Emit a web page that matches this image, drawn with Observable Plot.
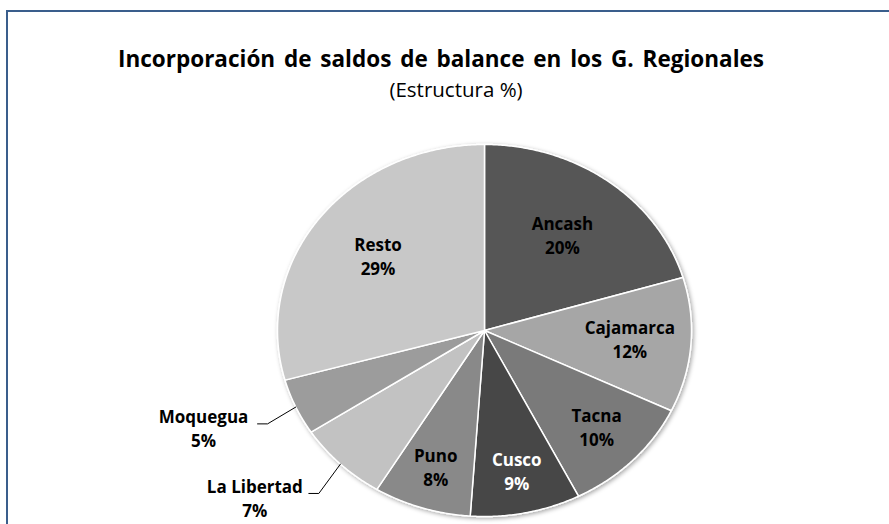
<!DOCTYPE html>
<html>
<head>
<meta charset="utf-8">
<script src="https://cdn.jsdelivr.net/npm/d3@7"></script>
<script src="https://cdn.jsdelivr.net/npm/@observablehq/plot@0.6"></script>
<style>
  html, body { margin: 0; padding: 0; background: #fff; }
  #wrap { position: relative; width: 889px; height: 524px; overflow: hidden; }
  #frame { position: absolute; left: 6px; top: 10px; width: 900px; height: 600px;
           border: 2px solid #3A5E8C; box-sizing: border-box; pointer-events: none; }
  svg { font-family: "Open Sans", sans-serif; }
</style>
</head>
<body>
<div id="wrap"><div id="frame"></div></div>
<script>
// ---- data ----
const regions = ["Ancash", "Cajamarca", "Tacna", "Cusco", "Puno", "La Libertad", "Moquegua", "Resto"];
const shares  = [20.4, 11.7, 10.4, 8.6, 7.6, 7.1, 4.9, 29.3];
const outsideLabels = ["La Libertad", "Moquegua"];
const palette = ["#575757", "#a6a6a6", "#7a7a7a", "#474747", "#898989", "#c2c2c2", "#9c9c9c", "#c8c8c8"];
const title = "Incorporación de saldos de balance en los G. Regionales";
const subtitle = "(Estructura %)";

// ---- layout ----
const W = 889, H = 524;
const CX = 484, CY = 330, RX = 207, RY = 186;

const pie = d3.pie().sort(null).value(d => d.share).startAngle(0).endAngle(2 * Math.PI);
const rows = regions.map((r, i) => ({region: r, share: shares[i], color: palette[i]}));
const arcs = pie(rows);

// polygon points for each slice (unit circle; scales stretch to ellipse)
const pts = [];
for (const a of arcs) {
  pts.push({region: a.data.region, x: 0, y: 0, color: a.data.color});
  const n = Math.max(2, Math.ceil((a.endAngle - a.startAngle) / (Math.PI / 360)));
  for (let k = 0; k <= n; k++) {
    const t = a.startAngle + (a.endAngle - a.startAngle) * k / n;
    pts.push({region: a.data.region, x: Math.sin(t), y: Math.cos(t), color: a.data.color});
  }
  pts.push({region: a.data.region, x: 0, y: 0, color: a.data.color});
}

const inside = [], outside = [], leaders = [];
for (const a of arcs) {
  const mid = (a.startAngle + a.endAngle) / 2;
  const pct = Math.round(a.data.share) + "%";
  if (outsideLabels.includes(a.data.region)) {
    const ex = 1.15 * Math.sin(mid), ey = 1.22 * Math.cos(mid);
    leaders.push({region: a.data.region, x: Math.sin(mid), y: Math.cos(mid)});
    leaders.push({region: a.data.region, x: ex, y: ey});
    leaders.push({region: a.data.region, x: ex - 10 / RX, y: ey});
    outside.push({name: a.data.region, pct, x: ex, y: ey});
  } else {
    // labels sit deeper toward the rim in the lower half (best-fit style)
    const f = 0.613 + 0.169 * (1 - Math.cos(mid)) / 2;
    const dark = d3.hsl(a.data.color).l < 0.3;
    inside.push({name: a.data.region, pct, x: f * Math.sin(mid), y: f * Math.cos(mid),
                 fill: dark ? "#ffffff" : "#000000"});
  }
}

const chart = Plot.plot({
  width: W, height: H,
  marginTop: 0, marginRight: 0, marginBottom: 0, marginLeft: 0,
  x: {domain: [-CX / RX, (W - CX) / RX], axis: null},
  y: {domain: [-(H - CY) / RY, CY / RY], axis: null},
  color: {type: "identity"},
  marks: [
    Plot.line(pts, {x: "x", y: "y", z: "region", fill: "color", stroke: "#ffffff",
                    strokeWidth: 1.5, strokeLinejoin: "round", curve: "linear"}),
    Plot.line(leaders, {x: "x", y: "y", z: "region", stroke: "#000000", strokeWidth: 1}),
    Plot.text(inside, {x: "x", y: "y", text: "name", fill: "fill", dy: -12,
                       fontSize: 17, fontWeight: "bold"}),
    Plot.text(inside, {x: "x", y: "y", text: "pct", fill: "fill", dy: 12,
                       fontSize: 17, fontWeight: "bold"}),
    Plot.text(outside, {x: "x", y: "y", text: "name", fill: "#000000", dx: -64, dy: -6,
                        fontSize: 17, fontWeight: "bold"}),
    Plot.text(outside, {x: "x", y: "y", text: "pct", fill: "#000000", dx: -64, dy: 18,
                        fontSize: 17, fontWeight: "bold"}),
    Plot.text([title], {frameAnchor: "top", lineAnchor: "middle", dx: -4, dy: 59,
                        fontSize: 22.5, fontWeight: "bold", fill: "#000000"}),
    Plot.text([subtitle], {frameAnchor: "top", lineAnchor: "middle", dx: 11, dy: 90,
                           fontSize: 20.5, fill: "#000000"})
  ]
});

const svg = d3.select(chart);
// Excel-like wider word spacing in the title
svg.selectAll("text").filter(function () { return this.textContent === title; })
  .style("word-spacing", "3px");

// soft shadow under the pie
const defs = svg.insert("defs", ":first-child");
const f = defs.append("filter").attr("id", "pieShadow").attr("x", "-10%").attr("y", "-10%")
  .attr("width", "120%").attr("height", "120%");
f.append("feDropShadow").attr("dx", 1.5).attr("dy", 1.5).attr("stdDeviation", 2)
  .attr("flood-color", "#000").attr("flood-opacity", 0.35);
svg.select("g[aria-label='line']").attr("filter", "url(#pieShadow)");

document.getElementById("wrap").prepend(chart);
</script>
</body>
</html>
